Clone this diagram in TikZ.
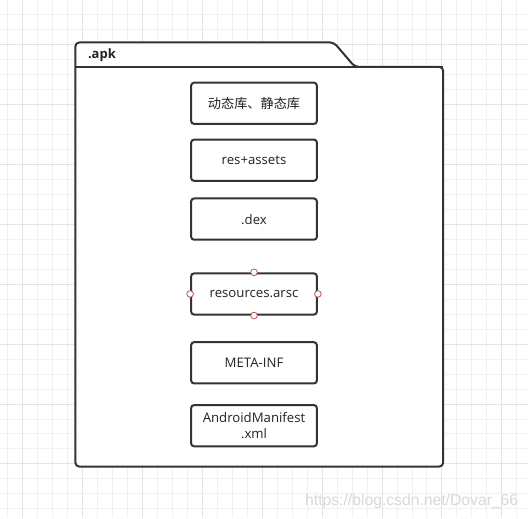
\documentclass[tikz,border=0pt]{standalone}
\usepackage{fontspec}
\setmainfont{Open Sans}
\newfontfamily\cjk{Noto Sans CJK SC}
\newfontfamily\marca{Liberation Sans}
\definecolor{linha}{HTML}{333333}
\definecolor{texto}{HTML}{222222}
\definecolor{grademenor}{HTML}{F1F1F1}
\definecolor{grademaior}{HTML}{E4E4E4}
\definecolor{ponto}{HTML}{B85450}
\begin{document}
\begin{tikzpicture}[x=0.75pt,y=-0.75pt,
    caixa/.style={draw=linha,line width=1.5pt,rounded corners=2.25pt,
      minimum width=94.5pt,minimum height=31pt,inner sep=0pt,align=center,
      text=texto,font=\fontsize{9.9}{11.5}\selectfont},
    ponto/.style={circle,draw=ponto,fill=white,line width=0.6pt,
      minimum size=5pt,inner sep=0pt}]
    % Fundo com grade
    \fill[white] (0,0) rectangle (528,518);
    \foreach \x in {7.3,22.3,...,527}
      \draw[grademenor,line width=0.75pt] (\x,0) -- (\x,518);
    \foreach \y in {14.3,29.3,...,517}
      \draw[grademenor,line width=0.75pt] (0,\y) -- (528,\y);
    \foreach \x in {22.3,82.3,...,527}
      \draw[grademaior,line width=0.75pt] (\x,0) -- (\x,518);
    \foreach \y in {44.3,104.3,...,517}
      \draw[grademaior,line width=0.75pt] (0,\y) -- (528,\y);

    % Pasta .apk
    \filldraw[fill=white,draw=linha,line width=1.5pt,rounded corners=3pt]
      (75,66.5) -- (75,42) -- (334,42) -- (355,66.5) -- (443.5,66.5)
      -- (443.5,467) -- (75,467) -- cycle;
    \draw[linha,line width=1.5pt] (75,66.5) -- (443.5,66.5);
    \node[anchor=west,text=texto,font=\bfseries\fontsize{9.75}{11}\selectfont]
      (apk) at (83,55) {.apk};

    % Arquivos
    \node[caixa] (libs) at (254,103) {\cjk 动态库、静态库};
    \node[caixa] (res) at (254,160) {res+assets};
    \node[caixa] (dex) at (254,219) {.dex};
    \node[caixa] (arsc) at (254,294) {resources.arsc};
    \node[caixa] (meta) at (254,363) {META-INF};
    \node[caixa] (manifest) at (254,426) {AndroidManifest\\.xml};

    % Pontos de conexao
    \foreach \lado in {north,south,east,west}
      \node[ponto] (arsc-\lado) at (arsc.\lado) {};

    % Marca d'agua
    \node[anchor=base west,inner sep=0pt,text=black!15,font=\marca\fontsize{11.8}{13}\selectfont]
      (marca) at (305,506) {https://blog.csdn.net/Dovar\_66};
  \end{tikzpicture}
\end{document}
